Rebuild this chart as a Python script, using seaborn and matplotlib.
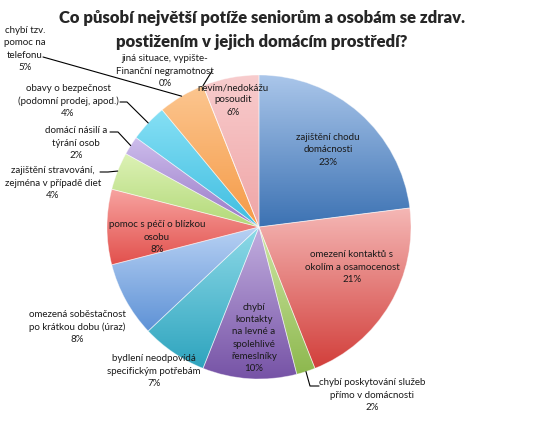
import numpy as np
import matplotlib
matplotlib.use('Agg')
import matplotlib.pyplot as plt
from matplotlib.colors import LinearSegmentedColormap
import seaborn as sns

sns.set_style('white')
plt.rcParams['font.family'] = ['Lato', 'DejaVu Sans']

# data (clockwise from 12 o'clock)
categories = [
    'zajištění chodu\ndomácnosti',
    'omezení kontaktů s\nokolím a osamocenost',
    'chybí poskytování služeb\npřímo v domácnosti',
    'chybí\nkontakty\nna levné a\nspolehlivé\nřemeslníky',
    'bydlení neodpovídá\nspecifickým potřebám',
    'omezená soběstačnost\npo krátkou dobu (úraz)',
    'pomoc s péčí o blízkou\nosobu',
    'zajištění stravování,\nzejména v případě diet',
    'domácí násilí a\ntýrání osob',
    'obavy o bezpečnost\n(podomní prodej, apod.)',
    'chybí tzv.\npomoc na\ntelefonu',
    'jiná situace, vypište-\nFinanční negramotnost',
    'nevím/nedokážu\nposoudit',
]
percent = [23, 21, 2, 10, 7, 8, 8, 4, 2, 4, 5, 0, 6]

# slice fill: (top colour, bottom colour) of the vertical gradient
grads = [('#AAC6EA', '#3C72B3'), ('#F5B8B6', '#D23F3B'), ('#CFE7A6', '#8DB84E'),
         ('#C2AEDF', '#7653A6'), ('#8FDAE8', '#2EA4BE'), ('#B9D2F4', '#5E92D6'),
         ('#F7A3A0', '#E2504C'), ('#DDF2B6', '#B2D978'), ('#CDBDEC', '#9878C6'),
         ('#86E0F5', '#3FBDE0'), ('#FCC690', '#F59A46'), ('#F2D0D0', '#E0B0B0'),
         ('#F8CCCD', '#EFA5A6')]

# layout in pixels of the 536x424 picture: pie centre, radius, label centres
W, H = 536, 424
CX, CY, R = 259, 227, 152
label_px = [(328, 150), (352, 267), (372, 395), (254, 338), (154, 371),
            (77, 327), (157, 237), (53, 183), (76, 143), (68, 101),
            (25, 49), (165, 71), (233, 100)]
# leader lines: start point and knee (px), ending at the wedge middle
leaders = {
    2: [(319, 386), (310, 386)],
    7: [(100, 172), (108, 172)],
    8: [(110, 132), (118, 132)],
    9: [(120, 102), (127, 102)],
    10: [(43, 57)],
    11: [(212, 71)],
}


def to_data(p):
    return ((p[0] - CX) / R, (CY - p[1]) / R)


fig = plt.figure(figsize=(W / 100, H / 100), dpi=100)
ax = fig.add_axes([0, 0, 1, 1])

wedges, _ = ax.pie(percent, colors=[g[1] for g in grads], startangle=90,
                   counterclock=False, radius=1, center=(0, 0),
                   wedgeprops={'linewidth': 0})

# Excel-like gradient inside each slice
ramp = np.linspace(0, 1, 256)[:, None]
for w, (top, bot) in zip(wedges, grads):
    ext = w.get_path().get_extents()
    if ext.height <= 0 or ext.width <= 0:
        continue
    cmap = LinearSegmentedColormap.from_list('g', [top, bot])
    im = ax.imshow(ramp, cmap=cmap, extent=[ext.x0, ext.x1, ext.y0, ext.y1],
                   origin='upper', aspect='auto', zorder=2, interpolation='bilinear')
    im.set_clip_path(w)
    w.set_facecolor('none')
    w.set_edgecolor((1, 1, 1, 0.45))
    w.set_linewidth(0.6)
    w.set_zorder(3)

ax.set_xlim(-CX / R, (W - CX) / R)
ax.set_ylim(-(H - CY) / R, CY / R)
ax.set_aspect('auto')
ax.axis('off')

for i, (name, val) in enumerate(zip(categories, percent)):
    x, y = to_data(label_px[i])
    ax.text(x, y, f'{name}\n{val}%', ha='center', va='center', zorder=5,
            fontsize=7, linespacing=1.45, color='#1a1a1a')

for i, pts in leaders.items():
    w = wedges[i]
    mid = np.deg2rad((w.theta1 + w.theta2) / 2)
    end = (np.cos(mid), np.sin(mid))
    xy = [to_data(p) for p in pts] + [end]
    xs, ys = zip(*xy)
    ax.plot(xs, ys, color='black', lw=0.8, zorder=4)

fig.text(262 / W, 1 - 30 / H,
         'Co působí největší potíže seniorům a osobám se zdrav.\npostižením v jejich domácím prostředí?',
         ha='center', va='center', fontsize=12, fontweight='heavy',
         linespacing=1.55)

fig.savefig('out.png', dpi=100, facecolor='white')
